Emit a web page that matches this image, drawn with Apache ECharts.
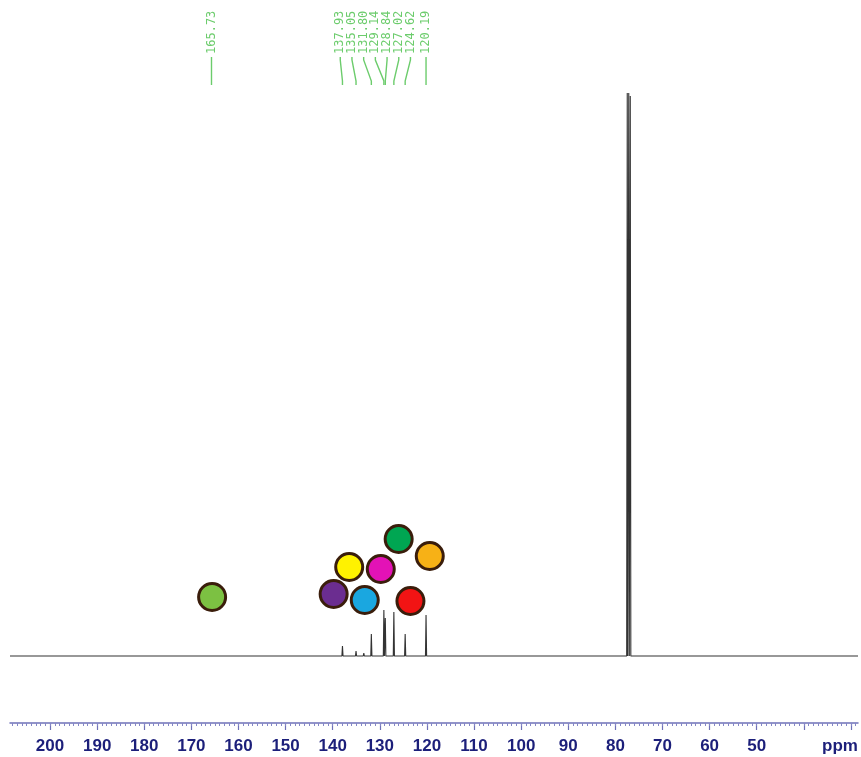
<!DOCTYPE html>
<html>
<head>
<meta charset="utf-8">
<script src="https://cdn.jsdelivr.net/npm/echarts@6/dist/echarts.min.js"></script>
<style>
html,body{margin:0;padding:0;background:#fff;}
#chart{width:861px;height:757px;}
</style>
</head>
<body>
<div id="chart"></div>
<script>
// Axis range (ppm, reversed) and tick labels
const axisMin = 28.5;
const axisMax = 208.5;
const majorTicks = [200, 190, 180, 170, 160, 150, 140, 130, 120, 110, 100, 90, 80, 70, 60, 50, 40, 30];
const tickLabels = ['200', '190', '180', '170', '160', '150', '140', '130', '120', '110', '100', '90', '80', '70', '60', '50', '', 'ppm'];
const minorTicks = [];
for (let v = 208; v >= 29; v--) minorTicks.push(v);

// Spectrum peaks (ppm) and heights (intensity units)
const peakPpm    = [165.73, 137.93, 135.05, 133.4, 131.80, 129.14, 128.84, 127.02, 124.62, 120.19, 77.48, 77.16, 76.84];
const peakHeight = [2,      10,     5,      3,     22,     46,     38,     44,     22,     41,     563,   563,   560];

// Peak pick labels
const labelPpm  = [165.73, 137.93, 135.05, 131.80, 129.14, 128.84, 127.02, 124.62, 120.19];
const labelText = ['165.73', '137.93', '135.05', '131.80', '129.14', '128.84', '127.02', '124.62', '120.19'];

// Coloured circle markers (ppm, height above baseline, colour)
const circlePpm   = [165.6, 139.8, 136.5, 133.2, 129.8, 126.0, 123.5, 119.4];
const circleY     = [59, 62, 89, 56, 87, 117, 55, 100];
const circleColor = ['#7cc142', '#6b2d90', '#fff200', '#1aa7e0', '#e312b6', '#00a652', '#f21414', '#f7b116'];

// Build spectrum line from peak list
const spectrum = [[axisMax, 0]];
peakPpm.forEach((p, i) => {
  spectrum.push([p + 0.12, 0]);
  spectrum.push([p, peakHeight[i]]);
  spectrum.push([p - 0.12, 0]);
});
spectrum.push([axisMin, 0]);

const circles = circlePpm.map((p, i) => ({
  value: [p, circleY[i]],
  itemStyle: { color: circleColor[i] }
}));

function layoutLabels(api) {
  const px = labelPpm.map(p => api.coord([p, 0])[0]);
  const gap = 11.7;
  let groups = px.map((x, i) => ({ members: [i] }));
  const pos = g => {
    const c = g.members.reduce((s, k) => s + px[k], 0) / g.members.length;
    return g.members.map((k, j) => c + (j - (g.members.length - 1) / 2) * gap);
  };
  let merged = true;
  while (merged) {
    merged = false;
    for (let i = 0; i < groups.length - 1; i++) {
      const a = pos(groups[i]), b = pos(groups[i + 1]);
      if (a[a.length - 1] + gap > b[0]) {
        groups[i] = { members: groups[i].members.concat(groups[i + 1].members) };
        groups.splice(i + 1, 1);
        merged = true;
        break;
      }
    }
  }
  const out = [];
  groups.forEach(g => {
    const p = pos(g);
    const shift = g.members.length > 1 ? -1.5 : 0;
    g.members.forEach((k, j) => { out[k] = p[j] + shift; });
  });
  return { px, lx: out };
}

const axisColor = '#6f72b8';
const labelColor = '#1c1f7a';

const chart = echarts.init(document.getElementById('chart'), null, { renderer: 'canvas' });
chart.setOption({
  animation: false,
  backgroundColor: '#ffffff',
  grid: { left: 10, right: 3, top: 93, bottom: 34 },
  xAxis: [
    {
      type: 'value',
      min: axisMin,
      max: axisMax,
      inverse: true,
      splitLine: { show: false },
      axisLine: { show: true, onZero: false, lineStyle: { color: axisColor, width: 1.5 } },
      axisTick: { show: true, inside: false, length: 7, customValues: majorTicks, lineStyle: { color: axisColor, width: 1.2 } },
      minorTick: { show: false },
      axisLabel: {
        margin: 15,
        color: labelColor,
        fontFamily: 'Liberation Sans',
        fontWeight: 'bold',
        fontSize: 17,
        customValues: majorTicks,
        formatter: v => {
          const t = tickLabels[majorTicks.indexOf(v)];
          if (t === 'ppm') return '{u|ppm}';
          return t === undefined ? '' : t;
        },
        rich: { u: { color: labelColor, fontFamily: 'Liberation Sans', fontWeight: 'bold', fontSize: 17, padding: [0, 22, 0, 0] } }
      }
    },
    {
      type: 'value',
      min: axisMin,
      max: axisMax,
      inverse: true,
      position: 'bottom',
      splitLine: { show: false },
      axisLine: { show: false, onZero: false },
      axisTick: { show: true, inside: false, length: 3, customValues: minorTicks, lineStyle: { color: '#8486c6', width: 1 } },
      axisLabel: { show: false }
    }
  ],
  yAxis: {
    type: 'value',
    min: -67,
    max: 563,
    show: false
  },
  series: [
    {
      type: 'line',
      data: spectrum,
      symbol: 'none',
      clip: false,
      lineStyle: { color: '#333333', width: 1.1 },
      z: 2
    },
    {
      type: 'scatter',
      data: circles,
      symbol: 'circle',
      symbolSize: 27,
      itemStyle: { borderColor: '#3a1d0b', borderWidth: 3, opacity: 1 },
      z: 5
    },
    {
      type: 'custom',
      clip: false,
      data: labelPpm.map((p, i) => [p, 0, i]),
      renderItem: (params, api) => {
        const i = params.dataIndex;
        const L = layoutLabels(api);
        const lx = L.lx[i], px = L.px[i];
        return {
          type: 'group',
          children: [
            {
              type: 'polyline',
              shape: { points: [[lx, 57], [lx, 60], [px, 81], [px, 85]] },
              style: { stroke: '#6ccc6c', lineWidth: 1.4, fill: null }
            },
            {
              type: 'text',
              x: lx,
              y: 54,
              rotation: Math.PI / 2,
              style: {
                text: labelText[i],
                fill: '#6ccc6c',
                font: '12px "DejaVu Sans Mono"',
                align: 'left',
                verticalAlign: 'middle'
              }
            }
          ]
        };
      },
      z: 3
    }
  ]
});
</script>
</body>
</html>
